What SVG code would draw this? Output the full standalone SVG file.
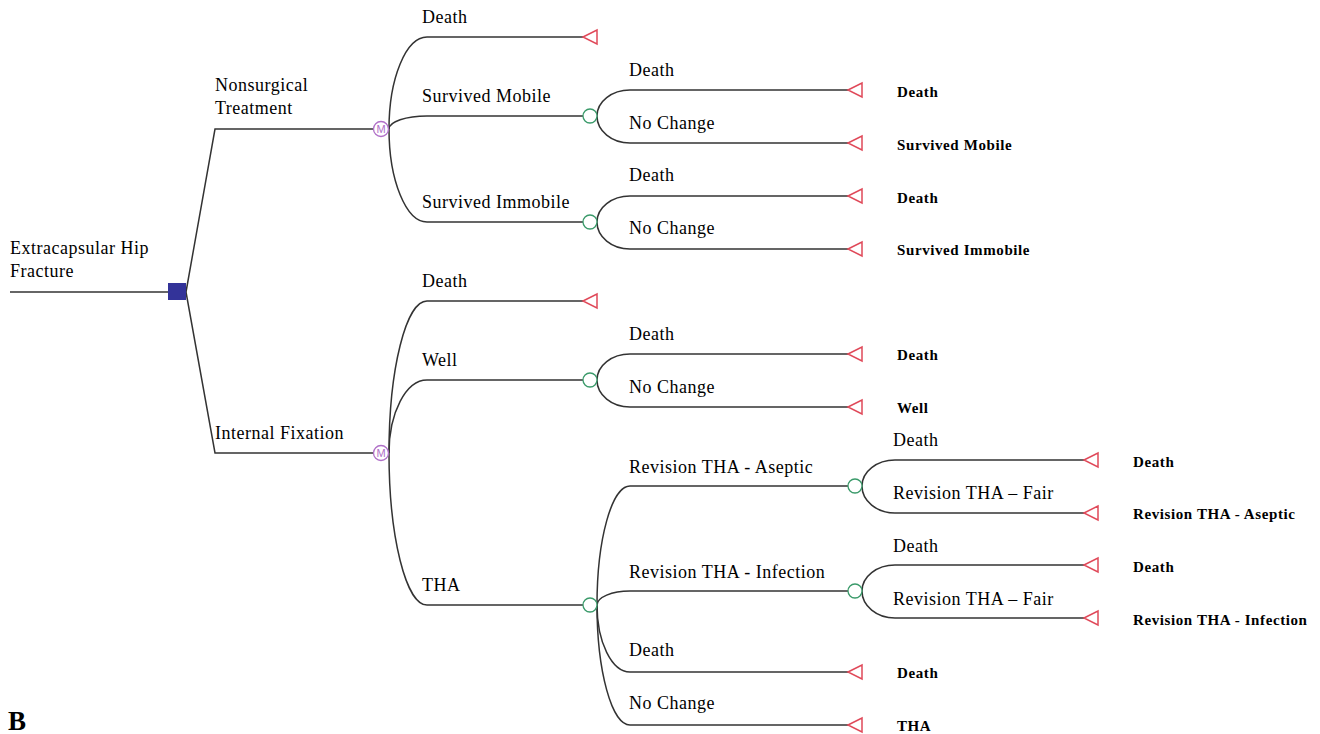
<svg xmlns="http://www.w3.org/2000/svg" width="1320" height="734" viewBox="0 0 1320 734">
<defs>
<style>
.ln{fill:none;stroke:#333;stroke-width:1.5}
.lb{font-family:"Liberation Serif","Times New Roman",serif;font-size:18px;letter-spacing:0.5px;fill:#000}
.tl{font-family:"Liberation Serif","Times New Roman",serif;font-size:15px;letter-spacing:0.6px;font-weight:bold;fill:#000}
.ch{fill:#fff;stroke:#3a9a6a;stroke-width:1.3}
.mk{fill:#fff;stroke:#b070c8;stroke-width:1.3}
.mt{font-family:"Liberation Sans",Arial,sans-serif;font-size:11px;fill:#b070c8;text-anchor:middle}
.tr{fill:#fff;stroke:#e04a5a;stroke-width:1.5}
</style>
<polygon id="tri" points="0,0 14,-7 14,7"/>
</defs>
<g id="connectors">
<path class="ln" d="M10,292 L168,292"/>
<path class="ln" d="M186,292 L215,129 L374,129"/>
<path class="ln" d="M186,292 L215,453 L374,453"/>
<path class="ln" d="M389,129 A38 92 0 0 1 427,37 L583,37"/>
<path class="ln" d="M389,129 A38 13 0 0 1 427,116 L583,116"/>
<path class="ln" d="M389,129 A38 93 0 0 0 427,222 L583,222"/>
<path class="ln" d="M597,116 A33 26 0 0 1 630,90 L848,90"/>
<path class="ln" d="M597,116 A33 27 0 0 0 630,143 L848,143"/>
<path class="ln" d="M597,222 A33 26 0 0 1 630,196 L848,196"/>
<path class="ln" d="M597,222 A33 27 0 0 0 630,249 L848,249"/>
<path class="ln" d="M389,453 A38 152 0 0 1 427,301 L583,301"/>
<path class="ln" d="M389,453 A38 73 0 0 1 427,380 L583,380"/>
<path class="ln" d="M389,453 A38 152 0 0 0 427,605 L583,605"/>
<path class="ln" d="M597,380 A33 26 0 0 1 630,354 L848,354"/>
<path class="ln" d="M597,380 A33 27 0 0 0 630,407 L848,407"/>
<path class="ln" d="M597,605 A33 119 0 0 1 630,486 L848,486"/>
<path class="ln" d="M597,605 A33 14 0 0 1 630,591 L848,591"/>
<path class="ln" d="M597,605 A33 67 0 0 0 630,672 L848,672"/>
<path class="ln" d="M597,605 A33 120 0 0 0 630,725 L848,725"/>
<path class="ln" d="M862,486 A33 26 0 0 1 895,460 L1084,460"/>
<path class="ln" d="M862,486 A33 27 0 0 0 895,513 L1084,513"/>
<path class="ln" d="M862,591 A33 26 0 0 1 895,565 L1084,565"/>
<path class="ln" d="M862,591 A33 27 0 0 0 895,618 L1084,618"/>
</g>
<g id="root">
<rect x="168" y="283" width="18" height="17" fill="#333399"/>
<text class="lb" x="10" y="254">Extracapsular Hip</text>
<text class="lb" x="10" y="277">Fracture</text>
</g>
<g id="nonsurgical">
<circle class="mk" cx="381" cy="129" r="7.5"/>
<text class="mt" x="381" y="133">M</text>
<text class="lb" x="215" y="91">Nonsurgical</text>
<text class="lb" x="215" y="114">Treatment</text>
</g>
<g id="internal-fixation">
<circle class="mk" cx="381" cy="453" r="7.5"/>
<text class="mt" x="381" y="457">M</text>
<text class="lb" x="215" y="439">Internal Fixation</text>
</g>
<g id="ns-death">
<use href="#tri" class="tr" x="583" y="37"/>
<text class="lb" x="422" y="23">Death</text>
</g>
<g id="ns-mobile">
<circle class="ch" cx="590" cy="116" r="7"/>
<text class="lb" x="422" y="102">Survived Mobile</text>
</g>
<g id="ns-mobile-death">
<use href="#tri" class="tr" x="848" y="90"/>
<text class="lb" x="629" y="76">Death</text>
<text class="tl" x="897" y="97">Death</text>
</g>
<g id="ns-mobile-nc">
<use href="#tri" class="tr" x="848" y="143"/>
<text class="lb" x="629" y="129">No Change</text>
<text class="tl" x="897" y="150">Survived Mobile</text>
</g>
<g id="ns-immobile">
<circle class="ch" cx="590" cy="222" r="7"/>
<text class="lb" x="422" y="208">Survived Immobile</text>
</g>
<g id="ns-immobile-death">
<use href="#tri" class="tr" x="848" y="196"/>
<text class="lb" x="629" y="181">Death</text>
<text class="tl" x="897" y="203">Death</text>
</g>
<g id="ns-immobile-nc">
<use href="#tri" class="tr" x="848" y="249"/>
<text class="lb" x="629" y="234">No Change</text>
<text class="tl" x="897" y="255">Survived Immobile</text>
</g>
<g id="if-death">
<use href="#tri" class="tr" x="583" y="301"/>
<text class="lb" x="422" y="287">Death</text>
</g>
<g id="if-well">
<circle class="ch" cx="590" cy="380" r="7"/>
<text class="lb" x="422" y="366">Well</text>
</g>
<g id="if-well-death">
<use href="#tri" class="tr" x="848" y="354"/>
<text class="lb" x="629" y="340">Death</text>
<text class="tl" x="897" y="360">Death</text>
</g>
<g id="if-well-nc">
<use href="#tri" class="tr" x="848" y="407"/>
<text class="lb" x="629" y="393">No Change</text>
<text class="tl" x="897" y="413">Well</text>
</g>
<g id="if-tha">
<circle class="ch" cx="590" cy="605" r="7"/>
<text class="lb" x="422" y="591">THA</text>
</g>
<g id="tha-aseptic">
<circle class="ch" cx="855" cy="486" r="7"/>
<text class="lb" x="629" y="473">Revision THA - Aseptic</text>
</g>
<g id="aseptic-death">
<use href="#tri" class="tr" x="1084" y="460"/>
<text class="lb" x="893" y="446">Death</text>
<text class="tl" x="1133" y="467">Death</text>
</g>
<g id="aseptic-fair">
<use href="#tri" class="tr" x="1084" y="513"/>
<text class="lb" x="893" y="499">Revision THA – Fair</text>
<text class="tl" x="1133" y="519">Revision THA - Aseptic</text>
</g>
<g id="tha-infection">
<circle class="ch" cx="855" cy="591" r="7"/>
<text class="lb" x="629" y="578">Revision THA - Infection</text>
</g>
<g id="infection-death">
<use href="#tri" class="tr" x="1084" y="565"/>
<text class="lb" x="893" y="552">Death</text>
<text class="tl" x="1133" y="572">Death</text>
</g>
<g id="infection-fair">
<use href="#tri" class="tr" x="1084" y="618"/>
<text class="lb" x="893" y="605">Revision THA – Fair</text>
<text class="tl" x="1133" y="625">Revision THA - Infection</text>
</g>
<g id="tha-death">
<use href="#tri" class="tr" x="848" y="672"/>
<text class="lb" x="629" y="656">Death</text>
<text class="tl" x="897" y="678">Death</text>
</g>
<g id="tha-nc">
<use href="#tri" class="tr" x="848" y="725"/>
<text class="lb" x="629" y="709">No Change</text>
<text class="tl" x="897" y="731">THA</text>
</g>
<text x="8" y="730" font-family="Liberation Serif,'Times New Roman',serif" font-size="27" font-weight="bold">B</text>
</svg>
